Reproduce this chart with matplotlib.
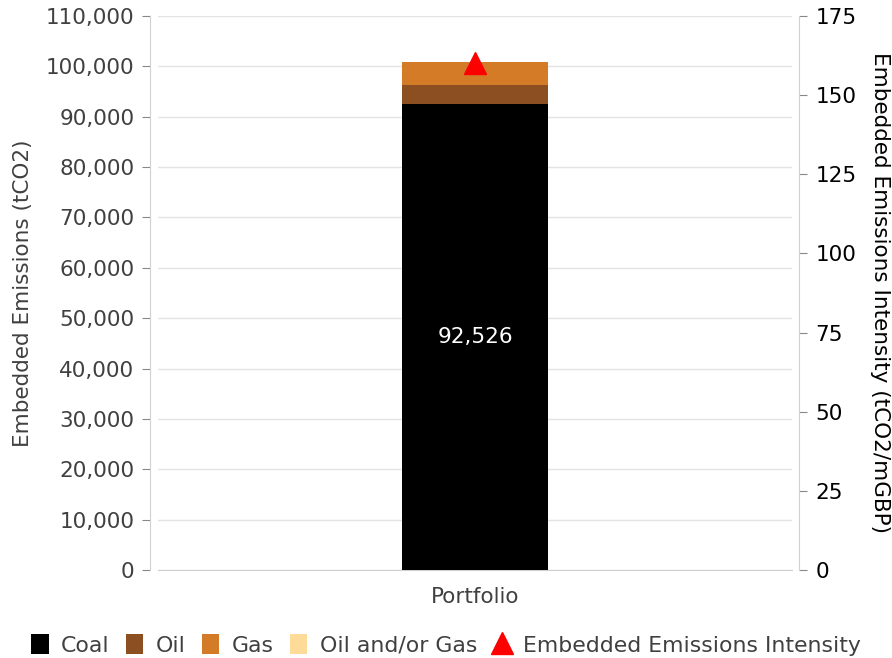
import matplotlib
matplotlib.use("Agg")
import matplotlib.pyplot as plt
from matplotlib.patches import Patch
from matplotlib.lines import Line2D
from matplotlib.ticker import FuncFormatter, MultipleLocator

categories = ["Portfolio"]
coal = [92526]
oil = [3800]
gas = [4600]
oil_or_gas = [0]
intensity = [160]

series_names = ["Coal", "Oil", "Gas", "Oil and/or Gas"]
series_colors = ["#000000", "#8B4F22", "#D47B27", "#FFDB99"]

plt.rcParams["font.family"] = "DejaVu Sans"
fs = 15.5
grey = "#404040"

fig = plt.figure(figsize=(8.92, 6.58), dpi=100)
ax = fig.add_axes([158 / 892, 1 - 570 / 658, (792 - 158) / 892, (570 - 16) / 658])

x = list(range(len(categories)))
bottom = [0] * len(categories)
for name, vals, col in zip(series_names, [coal, oil, gas, oil_or_gas], series_colors):
    ax.bar(x, vals, width=0.23, bottom=bottom, color=col, zorder=3, label=name)
    bottom = [b + v for b, v in zip(bottom, vals)]

for xi, v in zip(x, coal):
    ax.text(xi, v / 2, f"{v:,}", ha="center", va="center", color="white", fontsize=fs, zorder=5)

ax.set_xlim(-0.5, 0.5)
ax.set_ylim(0, 110000)
ax.yaxis.set_major_locator(MultipleLocator(10000))
ax.yaxis.set_major_formatter(FuncFormatter(lambda v, p: f"{int(v):,}"))
ax.set_xticks(x)
ax.set_xticklabels(categories)
ax.grid(axis="y", color="#e3e3e3", linewidth=1, zorder=0)
for s in ["top", "right"]:
    ax.spines[s].set_visible(False)
ax.spines["bottom"].set_color("#d0d0d0")
ax.spines["left"].set_color("#d0d0d0")
ax.spines["left"].set_position(("outward", 6))
ax.tick_params(axis="y", colors="#888888", labelcolor=grey, labelsize=fs, length=6, pad=5)
ax.tick_params(axis="x", length=0, labelcolor=grey, labelsize=fs, pad=12)
ax.set_ylabel("Embedded Emissions (tCO2)", color=grey, fontsize=fs, labelpad=9)

ax2 = ax.twinx()
ax2.set_ylim(0, 175)
ax2.yaxis.set_major_locator(MultipleLocator(25))
ax2.plot(x, intensity, linestyle="none", marker="^", color="red", markersize=16, zorder=6)
for s in ["top", "left", "bottom"]:
    ax2.spines[s].set_visible(False)
ax2.spines["right"].set_color("#d0d0d0")
ax2.spines["right"].set_position(("outward", 5))
ax2.tick_params(axis="y", colors="#888888", labelcolor="black", labelsize=fs, length=6, pad=6)
ax2.set_ylabel("Embedded Emissions Intensity (tCO2/mGBP)", rotation=270, fontsize=fs, labelpad=24, color="black")

handles = [Patch(facecolor=c, edgecolor="none") for c in series_colors]
handles.append(Line2D([], [], linestyle="none", marker="^", color="red", markersize=16))
labels = series_names + ["Embedded Emissions Intensity"]
fig.legend(handles, labels, loc="center", bbox_to_anchor=(0.5, 1 - 645 / 658), ncol=5,
           frameon=False, fontsize=15.8, handlelength=0.8, handleheight=1.0,
           handletextpad=0.55, columnspacing=0.75, labelcolor=grey)

fig.savefig("out.png", dpi=100)
